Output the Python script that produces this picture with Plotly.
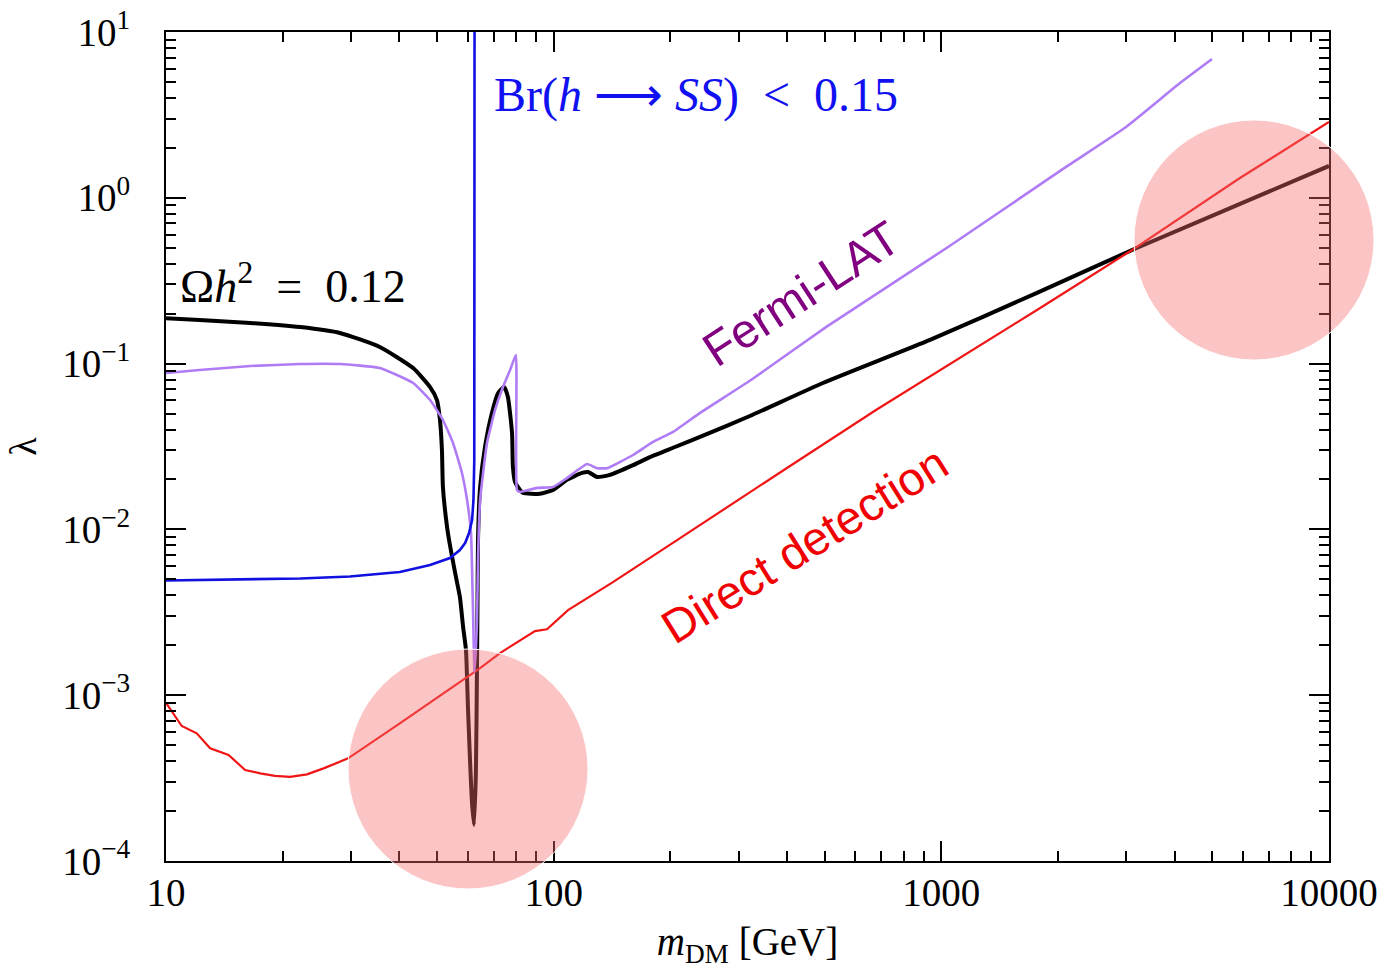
import plotly.graph_objects as go

# ---------------- data ----------------
# Relic density curve, Omega h^2 = 0.12 (black)
relic_m = [10, 12.2, 16.5, 22.2, 28.1, 35.6, 43.4, 48.0, 50.0, 50.9, 51.5, 51.8, 53.1, 54.0,
           55.7, 57.3, 58.4, 59.4, 60.1, 60.8, 61.5, 62.3, 63.0, 63.4, 63.6, 63.8, 64.6, 66.5,
           69.3, 71.9, 74.5, 76.2, 78.1, 78.5, 79.5, 81.9, 83.4, 92.2, 99.6, 108.2, 118.3, 122.7,
           129.4, 139.7, 160.2, 177.2, 205.6, 238.5, 320.7, 495, 935, 1765, 3103, 10000]
relic_lam = [0.188, 0.183, 0.176, 0.166, 0.153, 0.126, 0.094, 0.0722, 0.0603, 0.0457, 0.0301,
             0.0180, 0.0103, 0.00805, 0.00546, 0.00391, 0.00258, 0.00187, 8.49e-4, 4.24e-4,
             2.33e-4, 1.65e-4, 3.40e-4, 1.36e-3, 3.40e-3, 8.63e-3, 0.0180, 0.0314, 0.0504,
             0.0665, 0.0723, 0.0629, 0.0381, 0.0238, 0.0193, 0.0173, 0.0166, 0.0164, 0.0173,
             0.0199, 0.0219, 0.0222, 0.0207, 0.0213, 0.0244, 0.0273, 0.0314, 0.0361, 0.0483,
             0.0764, 0.139, 0.267, 0.484, 1.556]

# Fermi-LAT limit (purple)
fermi_m = [10, 12.2, 16.5, 22.2, 28.1, 35.6, 43.4, 48.0, 51.8, 55.0, 58.0, 59.8, 61.2, 61.9,
           62.5, 63.4, 63.8, 64.6, 67.3, 70.6, 74.0, 77.2, 79.9, 80.4, 81.9, 90.6, 99.6, 108.2,
           121.9, 129.4, 137.3, 160.2, 180.4, 203.2, 238.5, 322.8, 504, 1041, 2097, 2995, 4127,
           4992]
fermi_lam = [0.0877, 0.0915, 0.0967, 0.0994, 0.0994, 0.0941, 0.0764, 0.0603, 0.0457, 0.0332,
             0.0219, 0.0150, 0.0095, 0.0034, 0.00138, 0.00273, 0.00653, 0.0150, 0.0332, 0.0525,
             0.0723, 0.0915, 0.1127, 0.0173, 0.0168, 0.0178, 0.0180, 0.0204, 0.0248, 0.0234,
             0.0234, 0.0281, 0.0337, 0.0387, 0.0504, 0.0796, 0.166, 0.505, 1.535, 2.673, 4.92,
             6.87]

# Direct detection limit (red)
dd_m = [10, 10.98, 12.0, 13.0, 14.5, 16.0, 17.5, 19.1, 20.9, 23.1, 25.5, 29.5, 40.1, 64.6,
        72.7, 89.5, 96.1, 108.9, 142.2, 174.1, 208.1, 399.7, 678.3, 1765, 3103, 5892, 10000]
dd_lam = [9.0e-4, 6.52e-4, 5.89e-4, 4.78e-4, 4.36e-4, 3.54e-4, 3.38e-4, 3.26e-4, 3.22e-4,
          3.33e-4, 3.62e-4, 4.16e-4, 6.76e-4, 1.457e-3, 1.795e-3, 2.435e-3, 2.50e-3, 3.26e-3,
          4.81e-3, 6.53e-3, 8.62e-3, 0.02346, 0.0525, 0.2105, 0.484, 1.316, 2.866]

# Higgs invisible width limit Br(h -> SS) < 0.15 (blue)
br_m = [10, 16.5, 22.2, 29.8, 40.1, 48.0, 54.0, 57.3, 59.1, 60.5, 61.6, 62.1, 62.4, 62.5]
br_lam = [4.92e-3, 4.99e-3, 5.06e-3, 5.2e-3, 5.53e-3, 6.1e-3, 6.72e-3, 7.51e-3, 8.28e-3,
          9.5e-3, 0.0114, 0.015, 0.026, 10]

x_tickvals = [10, 100, 1000, 10000]
x_ticktext = ["10", "100", "1000", "10000"]
y_tickvals = [1e-4, 1e-3, 1e-2, 1e-1, 1, 10]
y_ticktext = ["10<sup>−4</sup>", "10<sup>−3</sup>", "10<sup>−2</sup>",
              "10<sup>−1</sup>", "10<sup>0</sup>", "10<sup>1</sup>"]
x_minor = [k * 10 ** e for e in (1, 2, 3) for k in range(2, 10)]
y_minor = [k * 10.0 ** e for e in (-4, -3, -2, -1, 0) for k in range(2, 10)]

SERIF = "Liberation Serif, Times New Roman, serif"
SANS = "Liberation Sans, Arial, sans-serif"

fig = go.Figure()
fig.add_trace(go.Scatter(x=relic_m, y=relic_lam, mode="lines",
                         line=dict(color="black", width=4, shape="spline", smoothing=0.5),
                         showlegend=False))
fig.add_trace(go.Scatter(x=dd_m, y=dd_lam, mode="lines",
                         line=dict(color="#f01515", width=2.2), showlegend=False))
fig.add_trace(go.Scatter(x=fermi_m, y=fermi_lam, mode="lines",
                         line=dict(color="#b07cf5", width=2.6, shape="spline", smoothing=0.4),
                         showlegend=False))
fig.add_trace(go.Scatter(x=br_m, y=br_lam, mode="lines",
                         line=dict(color="#1010e0", width=2.6), showlegend=False))

# highlight circles (domain fractions of the plotting area)
for (cx0, cx1, cy0, cy1) in [(0.1565, 0.3629, -0.0338, 0.2557),
                             (0.8323, 1.0387, 0.6043, 0.8939)]:
    fig.add_shape(type="circle", xref="x domain", yref="y domain",
                  x0=cx0, x1=cx1, y0=cy0, y1=cy1,
                  fillcolor="rgba(245,110,110,0.4)", line=dict(color="white", width=1),
                  layer="above")

axis_common = dict(
    type="log", showline=True, linecolor="black", linewidth=2, mirror="ticks",
    ticks="inside", ticklen=20, tickwidth=2, tickcolor="black", automargin=False,
    showgrid=False, zeroline=False, tickmode="array",
    tickfont=dict(family=SERIF, size=39, color="black"),
)

fig.update_xaxes(**axis_common, range=[1, 4], tickvals=x_tickvals, ticktext=x_ticktext,
                 minor=dict(tickmode="array", tickvals=x_minor, ticks="inside", ticklen=10,
                            tickwidth=2, tickcolor="black", showgrid=False),
                 ticklabelstandoff=-4,
                 title=dict(text="<i>m</i><sub>DM</sub> [GeV]",
                            font=dict(family=SERIF, size=39, color="black"), standoff=16))
fig.update_yaxes(**axis_common, range=[-4, 1], tickvals=y_tickvals, ticktext=y_ticktext,
                 minor=dict(tickmode="array", tickvals=y_minor, ticks="inside", ticklen=10,
                            tickwidth=2, tickcolor="black", showgrid=False),
                 ticklabelstandoff=26,
                 title=dict(text="λ", font=dict(family=SERIF, size=38, color="black"),
                            standoff=14))

fig.add_annotation(x=1.031, y=-0.514, xref="x", yref="y", xanchor="left", yanchor="middle",
                   text="Ω<i>h</i><sup>2</sup>\u00a0\u00a0=\u00a0\u00a00.12", showarrow=False,
                   font=dict(family=SERIF, size=46, color="black"))
fig.add_annotation(x=1.841, y=0.62, xref="x", yref="y", xanchor="left", yanchor="middle",
                   text="Br(<i>h</i>\u00a0⟶\u00a0<i>SS</i>)\u00a0\u00a0<\u00a0\u00a00.15",
                   showarrow=False, font=dict(family=SERIF, size=48, color="#1010f0"))
fig.add_annotation(x=2.64, y=-0.58, xref="x", yref="y", text="Fermi-LAT", showarrow=False,
                   textangle=-33, font=dict(family=SANS, size=48, color="#800080"))
fig.add_annotation(x=2.648, y=-2.09, xref="x", yref="y", text="Direct detection",
                   showarrow=False, textangle=-32,
                   font=dict(family=SANS, size=47, color="#f00000"))

fig.update_layout(width=1385, height=969, margin=dict(l=166, r=56, t=32, b=108),
                  paper_bgcolor="white", plot_bgcolor="white", showlegend=False)

fig.write_html("out.html")
